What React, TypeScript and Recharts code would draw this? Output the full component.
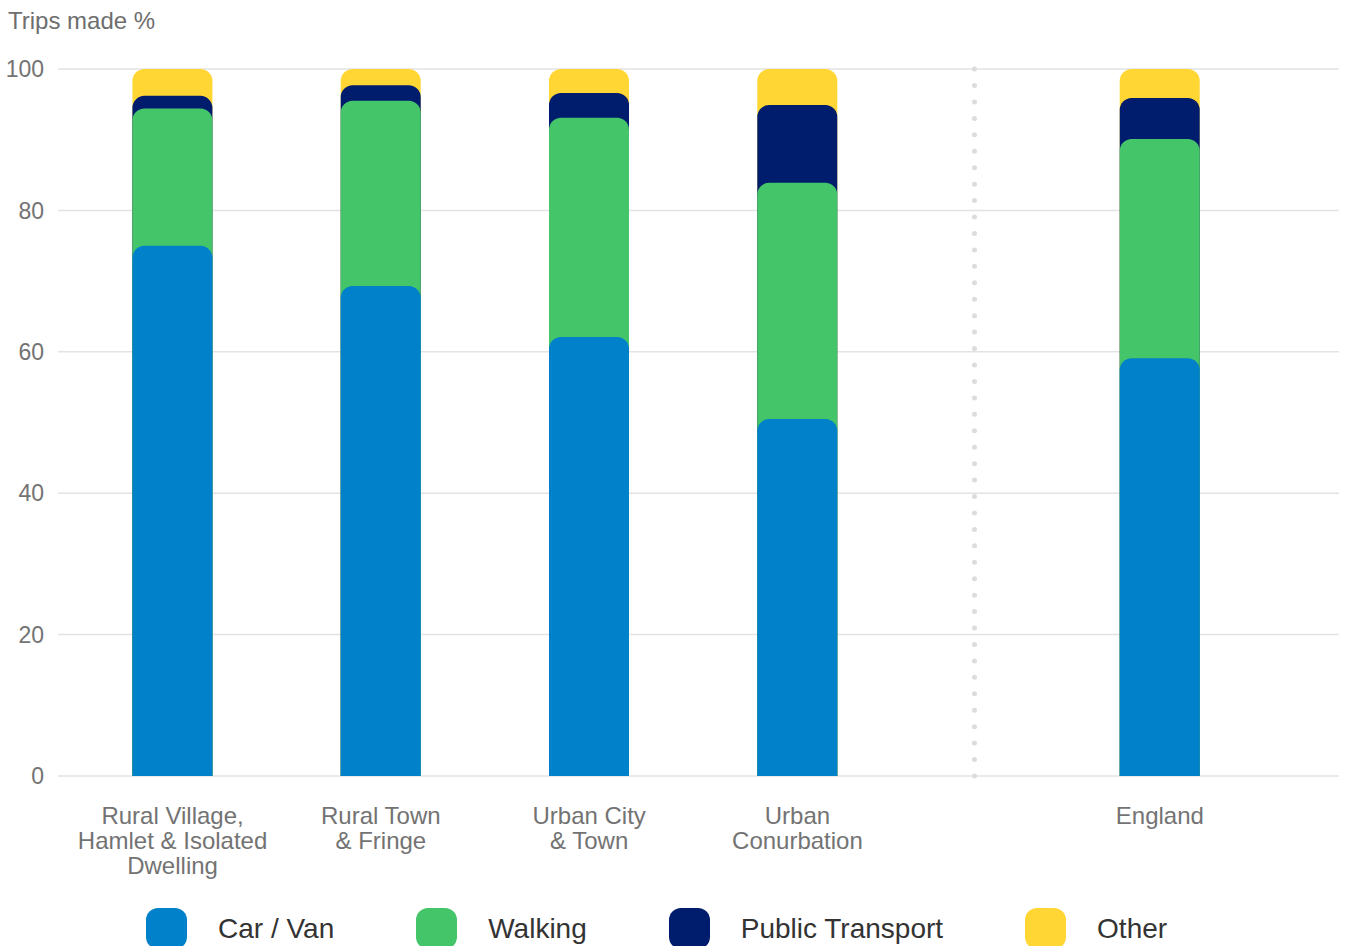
import React from "react";
import { BarChart, Bar, XAxis, YAxis, CartesianGrid, ReferenceLine } from "recharts";

const categories = [
    "Rural Village,\nHamlet & Isolated\nDwelling",
    "Rural Town\n& Fringe",
    "Urban City\n& Town",
    "Urban\nConurbation",
    "England",
];
const carVan = [75.0, 69.3, 62.1, 50.5, 59.1];
const walking = [19.4, 26.2, 31.0, 33.4, 31.0];
const publicTransport = [1.8, 2.2, 3.5, 11.0, 5.8];
const other = [3.8, 2.3, 3.4, 5.1, 4.1];
const yTicks = [0, 20, 40, 60, 80, 100];

// where each category sits on the x axis; England stands apart past the divider
const slots = [0, 1, 2, 3, 4.74];
const dividerSlot = 3.85;
const xDomain = [-0.55, 5.6];

const colors = {
    car: "#0081c9",
    walking: "#44c56a",
    pt: "#001c6c",
    other: "#ffd633",
};

const legendItems = [
    { label: "Car / Van", color: colors.car },
    { label: "Walking", color: colors.walking },
    { label: "Public Transport", color: colors.pt },
    { label: "Other", color: colors.other },
];

// bars are drawn overlapping, each from 0 up to its cumulative total
const data = categories.map((name, i) => ({
    name,
    slot: slots[i],
    car: carVan[i],
    walk: carVan[i] + walking[i],
    pt: carVan[i] + walking[i] + publicTransport[i],
    other: carVan[i] + walking[i] + publicTransport[i] + other[i],
}));

const FONT = '"Liberation Sans", Arial, sans-serif';

const CategoryTick = (props: any) => {
    const { x, y, payload } = props;
    const idx = slots.indexOf(payload.value);
    if (idx < 0) return null;
    const lines = categories[idx].split("\n");
    return (
        <text x={x} y={y} textAnchor="middle" fill="#737373" fontSize={24} fontFamily={FONT}>
            {lines.map((line, i) => (
                <tspan key={i} x={x} y={y + 18 + i * 25}>
                    {line}
                </tspan>
            ))}
        </text>
    );
};

const R = 12;

export default function App() {
    return (
        <div
            style={{
                position: "absolute",
                left: 0,
                top: 0,
                width: 1347,
                height: 946,
                overflow: "hidden",
                background: "#fff",
                fontFamily: FONT,
            }}
        >
            <div
                style={{
                    position: "absolute",
                    left: 8,
                    top: 7,
                    fontSize: 24,
                    lineHeight: "28px",
                    color: "#6e6e6e",
                }}
            >
                Trips made %
            </div>
            <BarChart
                width={1347}
                height={946}
                data={data}
                margin={{ top: 69, right: 8, left: 0, bottom: 0 }}
            >
                <CartesianGrid vertical={false} stroke="#e3e3e3" strokeWidth={1.5} />
                <XAxis
                    xAxisId="main"
                    dataKey="slot"
                    type="number"
                    domain={xDomain}
                    ticks={slots}
                    interval={0}
                    axisLine={false}
                    tickLine={false}
                    tickSize={0}
                    tickMargin={0}
                    height={170}
                    tick={<CategoryTick />}
                />
                <XAxis xAxisId="pt" dataKey="slot" type="number" domain={xDomain} hide />
                <XAxis xAxisId="walk" dataKey="slot" type="number" domain={xDomain} hide />
                <XAxis xAxisId="car" dataKey="slot" type="number" domain={xDomain} hide />
                <YAxis
                    width={58}
                    domain={[0, 100]}
                    ticks={yTicks}
                    axisLine={false}
                    tickLine={false}
                    tickSize={0}
                    tickMargin={14}
                    tick={{ fill: "#737373", fontSize: 23, fontFamily: FONT }}
                />
                <ReferenceLine
                    xAxisId="main"
                    x={dividerSlot}
                    stroke="#dcdcdc"
                    strokeWidth={5}
                    strokeLinecap="round"
                    strokeDasharray="0 16.44"
                />
                <Bar xAxisId="main" dataKey="other" fill={colors.other} barSize={80} radius={[R, R, 0, 0]} isAnimationActive={false} />
                <Bar xAxisId="pt" dataKey="pt" fill={colors.pt} barSize={80} radius={[R, R, 0, 0]} isAnimationActive={false} />
                <Bar xAxisId="walk" dataKey="walk" fill={colors.walking} barSize={80} radius={[R, R, 0, 0]} isAnimationActive={false} />
                <Bar xAxisId="car" dataKey="car" fill={colors.car} barSize={80} radius={[R, R, 0, 0]} isAnimationActive={false} />
            </BarChart>
            <div
                style={{
                    position: "absolute",
                    left: 146,
                    top: 908,
                    display: "flex",
                    alignItems: "center",
                    gap: 82,
                }}
            >
                {legendItems.map((item) => (
                    <div key={item.label} style={{ display: "flex", alignItems: "center" }}>
                        <div
                            style={{
                                width: 41,
                                height: 41,
                                borderRadius: 12,
                                background: item.color,
                                marginRight: 31,
                            }}
                        />
                        <span style={{ fontSize: 28, color: "#333", lineHeight: "41px" }}>{item.label}</span>
                    </div>
                ))}
            </div>
        </div>
    );
}
